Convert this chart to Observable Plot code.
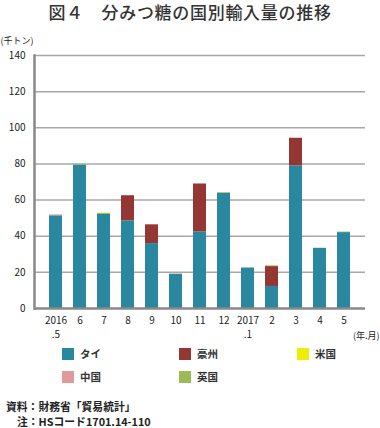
<!DOCTYPE html>
<html>
<head>
<meta charset="utf-8">
<script src="https://cdn.jsdelivr.net/npm/d3@7"></script>
<script src="https://cdn.jsdelivr.net/npm/@observablehq/plot@0.6"></script>
<style>
  body { margin:0; background:#fff; font-family:"Noto Sans CJK JP", sans-serif; color:#222; }
  #wrap { position:relative; width:380px; height:428px; overflow:hidden; }
  #title { position:absolute; top:0px; left:0; width:380px; text-align:center; font-size:17px; line-height:24px; letter-spacing:0.7px; font-weight:500; color:#333; }
  #chart { position:absolute; top:28px; left:0; }
  .lg { position:absolute; display:flex; align-items:center; font-size:10.5px; font-weight:bold; color:#333; }
  .sw { width:12px; height:12px; margin-right:6px; }
  .cap { position:absolute; font-size:10.8px; font-weight:bold; line-height:15px; color:#222; white-space:nowrap; }
</style>
</head>
<body>
<div id="wrap">
  <div id="title">図４　分みつ糖の国別輸入量の推移</div>
  <div id="chart"></div>
  <div id="legend"></div>
  <div class="cap" style="left:6px; top:399px;">資料：財務省「貿易統計」</div>
  <div class="cap" style="left:17px; top:414px;">注：HSコード1701.14-110</div>
</div>
<script>
const months = ["2016.5","6","7","8","9","10","11","12","2017.1","2","3","4","5"];
const tickLabels = ["2016\n.5","6","7","8","9","10","11","12","2017\n.1","2","3","4","5"];
const series = ["タイ","豪州","米国","中国","英国"];
const colors = ["#2a87a0","#943634","#eeee00","#e09a9a","#9bbb59"];
const thai      = [51.3,79.3,52.4,48.5,35.9,18.9,42.4,63.7,22.4,12.2,78.9,33.3,42.0];
const australia = [0,0,0,13.9,10.4,0,26.5,0,0,11.0,15.3,0,0];
const usa       = [0,0,0.4,0,0,0,0,0,0,0.2,0,0,0];
const china     = [0.5,0,0,0,0,0,0,0,0,0,0,0,0];
const uk        = [0,0.5,0,0,0,0.2,0,0.4,0,0.3,0,0,0.3];
const yTicks = [0,20,40,60,80,100,120,140];
const yUnit = "(千トン)";
const xUnit = "(年.月)";

const valuesBySeries = [thai, australia, usa, china, uk];
const data = [];
series.forEach((s, si) => months.forEach((m, i) => data.push({month:m, country:s, value:valuesBySeries[si][i]})));
const labelMap = new Map(months.map((m,i)=>[m, tickLabels[i]]));

const chart = Plot.plot({
  width:380, height:318,
  marginTop:27, marginBottom:38, marginLeft:34, marginRight:15,
  style:{fontFamily:"'Noto Sans CJK JP', sans-serif", fontSize:"10px", color:"#222", background:"transparent"},
  x:{domain:months, padding:0.45, label:null},
  y:{domain:[0,140], label:null},
  color:{domain:series, range:colors},
  marks:[
    Plot.ruleY(yTicks.filter(d=>d>0), {stroke:"#a8a8a8", strokeWidth:1.5}),
    Plot.barY(data, {x:"month", y:"value", fill:"country", order:series}),
    Plot.ruleY([0], {stroke:"#888", strokeWidth:2.5}),
    Plot.frame({anchor:"left", stroke:"#888", strokeWidth:2.5}),
    Plot.axisY({ticks:yTicks, tickSize:0, tickPadding:9, label:null}),
    Plot.axisX({tickSize:0, tickPadding:6, tickFormat:d=>labelMap.get(d), lineHeight:1.35, label:null}),
    Plot.text([yUnit], {frameAnchor:"top-left", dx:-34, dy:-14, textAnchor:"start", lineAnchor:"middle", fontSize:9}),
    Plot.text([xUnit], {frameAnchor:"bottom-right", dx:14, dy:28, textAnchor:"end", lineAnchor:"middle", fontSize:9})
  ]
});
document.getElementById("chart").appendChild(chart);

const legendPos = [[62,346],[179,346],[297,346],[62,369],[179,369]];
const lg = document.getElementById("legend");
series.forEach((s,i)=>{
  const d = document.createElement("div");
  d.className = "lg";
  d.style.left = legendPos[i][0] + "px";
  d.style.top = legendPos[i][1] + "px";
  d.innerHTML = `<div class="sw" style="background:${colors[i]}"></div><span>${s}</span>`;
  lg.appendChild(d);
});
</script>
</body>
</html>
